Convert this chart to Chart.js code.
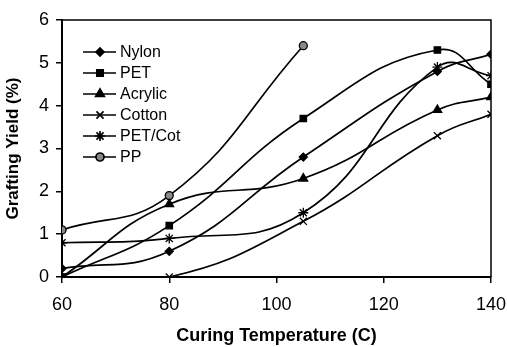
<!DOCTYPE html>
<html>
<head>
<meta charset="utf-8">
<script src="https://cdn.jsdelivr.net/npm/chart.js@4"></script>
<style>
  html, body { margin: 0; padding: 0; background: #fff; }
  #wrap { width: 507px; height: 347px; }
</style>
</head>
<body>
<div id="wrap"><canvas id="graftChart" width="507" height="347"></canvas></div>
<script>
// curing temperature (C)
const temps = [60, 80, 105, 130, 140];
const ppTemps = [60, 80, 105];

// grafting yield (%)
const nylon = [0.2, 0.6, 2.8, 4.8, 5.2];
const pet = [0, 1.2, 3.7, 5.3, 4.5];
const acrylic = [0, 1.7, 2.3, 3.9, 4.2];
const cotton = [0, 0, 1.3, 3.3, 3.8];
const petCot = [0.8, 0.9, 1.5, 4.9, 4.7];
const pp = [1.1, 1.9, 5.4];

const xTicks = [60, 80, 100, 120, 140];
const yTicks = [0, 1, 2, 3, 4, 5, 6];

const FONT = '"Liberation Sans", Arial, sans-serif';
const toPts = (xs, ys) => xs.map((x, i) => ({ x: x, y: ys[i] }));

function series(label, xs, ys, style, fill, radius) {
    return {
        label: label,
        data: toPts(xs, ys),
        borderColor: '#000',
        borderWidth: 1.7,
        backgroundColor: fill,
        pointStyle: style,
        pointRadius: radius,
        pointBorderColor: '#000',
        pointBackgroundColor: fill,
        pointBorderWidth: 1.3,
        tension: 0.45
    };
}

// legend drawn inside the plot, top-left
const insideLegend = {
    id: 'insideLegend',
    afterDraw(chart) {
        const ctx = chart.ctx;
        const a = chart.chartArea;
        ctx.save();
        chart.data.datasets.forEach((ds, i) => {
            const y = 52 + i * 21;
            const x0 = a.left + 21;
            ctx.strokeStyle = '#000';
            ctx.lineWidth = 1.7;
            ctx.beginPath();
            ctx.moveTo(x0, y);
            ctx.lineTo(x0 + 33, y);
            ctx.stroke();
            ctx.fillStyle = ds.pointBackgroundColor;
            ctx.strokeStyle = '#000';
            Chart.helpers.drawPoint(ctx, {
                pointStyle: ds.pointStyle, radius: ds.pointRadius,
                rotation: 0, borderWidth: 1.3
            }, x0 + 17, y);
            ctx.fillStyle = '#000';
            ctx.font = '16px ' + FONT;
            ctx.textBaseline = 'middle';
            ctx.textAlign = 'left';
            ctx.fillText(ds.label, x0 + 37, y + 1);
        });
        // top and right frame
        ctx.strokeStyle = '#000';
        ctx.lineWidth = 1.5;
        ctx.beginPath();
        ctx.moveTo(a.left, a.top);
        ctx.lineTo(a.right, a.top);
        ctx.lineTo(a.right, a.bottom);
        ctx.stroke();
        ctx.restore();
    }
};

const ctx1 = document.getElementById('graftChart').getContext('2d');
const myChart1 = new Chart(ctx1, {
    type: 'line',
    data: {
        datasets: [
            series('Nylon', temps, nylon, 'rectRot', '#000', 4),
            series('PET', temps, pet, 'rect', '#000', 4.5),
            series('Acrylic', temps, acrylic, 'triangle', '#000', 5),
            series('Cotton', temps, cotton, 'crossRot', '#fff', 5),
            series('PET/Cot', temps, petCot, 'star', '#000', 5),
            series('PP', ppTemps, pp, 'circle', '#888', 4)
        ]
    },
    options: {
        responsive: false,
        animation: false,
        layout: { padding: { top: 20, right: 16, left: 0, bottom: 0 } },
        plugins: {
            legend: { display: false },
            tooltip: { enabled: false }
        },
        scales: {
            x: {
                type: 'linear',
                min: 60,
                max: 140,
                afterBuildTicks: (s) => { s.ticks = xTicks.map(v => ({ value: v })); },
                afterFit: (s) => { s.height = 70; s.paddingRight = 0; s.paddingLeft = 0; },
                grid: { drawOnChartArea: false, tickLength: 6, color: '#000', lineWidth: 1.5 },
                border: { color: '#000', width: 2 },
                ticks: {
                    color: '#000', padding: 11,
                    font: { family: FONT, size: 18 }
                },
                title: {
                    display: true,
                    text: 'Curing Temperature (C)',
                    color: '#000',
                    padding: { top: 4, bottom: 0 },
                    font: { family: FONT, size: 18, weight: 'bold' }
                }
            },
            y: {
                min: 0,
                max: 6,
                afterBuildTicks: (s) => { s.ticks = yTicks.map(v => ({ value: v })); },
                afterFit: (s) => { s.width = 62; },
                grid: { drawOnChartArea: false, tickLength: 6, color: '#000', lineWidth: 1.5 },
                border: { color: '#000', width: 2 },
                ticks: {
                    color: '#000', padding: 7,
                    font: { family: FONT, size: 18 }
                },
                title: {
                    display: true,
                    text: 'Grafting Yield (%)',
                    color: '#000',
                    padding: { top: 3, bottom: 2 },
                    font: { family: FONT, size: 17, weight: 'bold' }
                }
            }
        }
    },
    plugins: [insideLegend]
});
</script>
</body>
</html>
